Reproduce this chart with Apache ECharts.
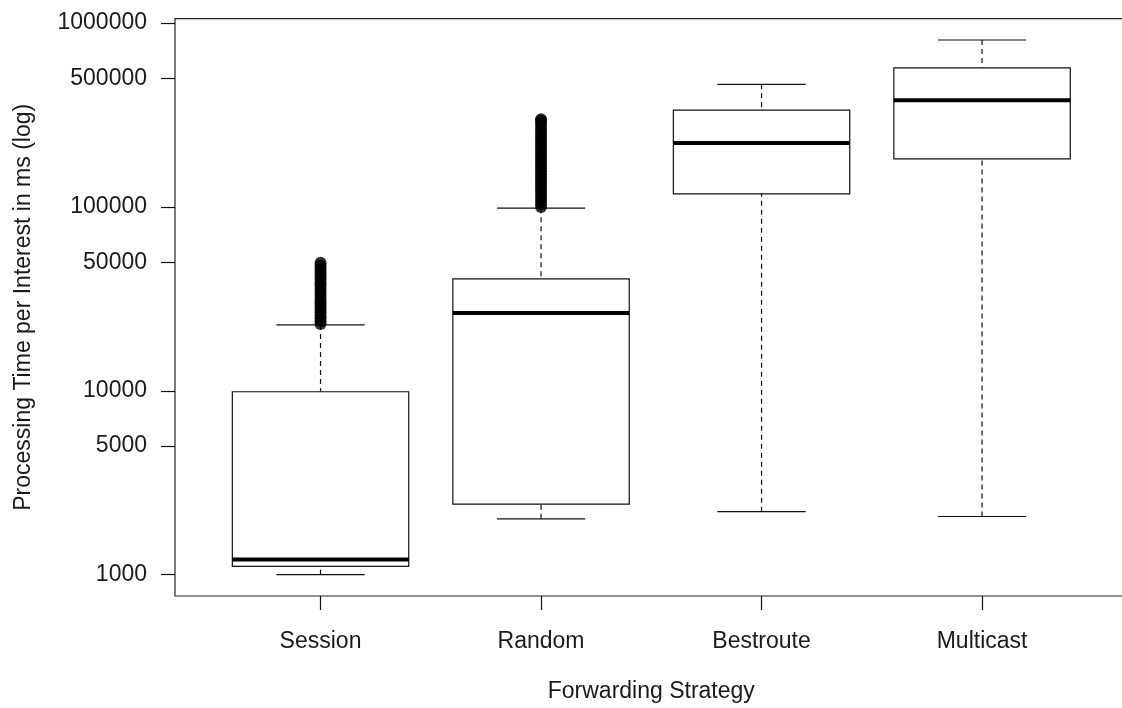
<!DOCTYPE html>
<html>
<head>
<meta charset="utf-8">
<script src="https://cdn.jsdelivr.net/npm/echarts@6/dist/echarts.min.js"></script>
<style>
  html, body { margin: 0; padding: 0; background: #ffffff; overflow: hidden; }
  /* the plotting region runs a little past the right edge of the window */
  #chart { width: 1140px; height: 708px; }
</style>
</head>
<body>
<div id="chart"></div>
<script>
// Forwarding strategies on the x axis
const strategies = ['Session', 'Random', 'Bestroute', 'Multicast'];

// Box summaries, processing time per interest in ms
const lowerWhisker  = [1000, 2010, 2200, 2070];
const lowerQuartile = [1110, 2420, 117800, 182300];
const medians       = [1210, 26500, 222800, 380000];
const upperQuartile = [9880, 40600, 336000, 571000];
const upperWhisker  = [22800, 98400, 464000, 809000];

// Outliers above the upper whisker
const sessionOutliers = [23100, 23900, 24800, 25700, 26700, 27700, 28700, 29800, 30900,
  32000, 33200, 34500, 35800, 37100, 38500, 40000, 41500, 43000, 44600, 46300, 48000, 49700];
const randomOutliers = [100000, 103800, 107700, 111800, 116000, 120400, 125000, 129700,
  134600, 139700, 145000, 150500, 156200, 162100, 168300, 174700, 181300, 188200, 195300,
  202700, 210400, 218400, 226700, 235300, 244200, 253500, 263100, 273100, 283400, 294200, 300000];
const outlierGroups = [sessionOutliers, randomOutliers, [], []];

// Y axis tick labels
const yTickValues = [1000, 5000, 10000, 50000, 100000, 500000, 1000000];

const FONT = 'Liberation Sans';
const INK = '#1a1a1a';

// log10 positions on the value axis
const lg = v => Math.log10(v);

const allValues = [].concat(lowerWhisker, upperWhisker, ...outlierGroups);
const lo = lg(Math.min(...allValues));
const hi = lg(Math.max(...allValues));
const pad = (hi - lo) * 0.04;
const n = strategies.length;

const boxData = strategies.map((s, i) => [
  i + 1,
  lg(lowerWhisker[i]), lg(lowerQuartile[i]), lg(medians[i]),
  lg(upperQuartile[i]), lg(upperWhisker[i])
]);

const outlierData = [];
outlierGroups.forEach((g, i) => g.forEach(v => outlierData.push([i + 1, lg(v)])));

function renderBox(params, api) {
  const x = api.value(0);
  const lw = api.value(1), q1 = api.value(2), md = api.value(3), q3 = api.value(4), uw = api.value(5);
  const halfBox = 0.4, halfCap = 0.2;
  const c = (a, b) => api.coord([a, b]);
  const pTopLeft = c(x - halfBox, q3);
  const pBotRight = c(x + halfBox, q1);
  const dashed = { stroke: '#111', lineWidth: 1.2, lineDash: [5, 4] };
  const solid = { stroke: '#111', lineWidth: 1.2 };
  const line = (p1, p2, style) => ({
    type: 'line',
    shape: { x1: p1[0], y1: p1[1], x2: p2[0], y2: p2[1] },
    style: style
  });
  return {
    type: 'group',
    children: [
      line(c(x, uw), c(x, q3), dashed),
      line(c(x, lw), c(x, q1), dashed),
      line(c(x - halfCap, uw), c(x + halfCap, uw), solid),
      line(c(x - halfCap, lw), c(x + halfCap, lw), solid),
      {
        type: 'rect',
        shape: {
          x: pTopLeft[0], y: pTopLeft[1],
          width: pBotRight[0] - pTopLeft[0], height: pBotRight[1] - pTopLeft[1]
        },
        style: { fill: '#ffffff', stroke: '#111', lineWidth: 1.2 }
      },
      line(c(x - halfBox, md), c(x + halfBox, md), { stroke: '#000', lineWidth: 4 })
    ]
  };
}

const chart = echarts.init(document.getElementById('chart'), null, { renderer: 'canvas' });

chart.setOption({
  animation: false,
  backgroundColor: '#ffffff',
  textStyle: { fontFamily: FONT },
  grid: {
    left: 175, top: 18.6, width: 952.6, height: 577.8,
    show: true, borderColor: '#222', borderWidth: 1.2, backgroundColor: 'transparent'
  },
  xAxis: {
    type: 'value',
    min: 0.5 - 0.04 * n,
    max: n + 0.5 + 0.04 * n,
    splitLine: { show: false },
    axisLine: { show: false },
    axisTick: {
      show: true, inside: false, length: 14,
      customValues: strategies.map((s, i) => i + 1),
      lineStyle: { color: '#111', width: 1.2 }
    },
    axisLabel: {
      customValues: strategies.map((s, i) => i + 1),
      formatter: v => strategies[Math.round(v) - 1],
      margin: 34, fontSize: 23, color: INK, fontFamily: FONT
    },
    name: 'Forwarding Strategy',
    nameLocation: 'middle',
    nameGap: 84,
    nameTextStyle: { fontSize: 23, color: INK, fontFamily: FONT }
  },
  yAxis: {
    type: 'value',
    min: lo - pad,
    max: hi + pad,
    splitLine: { show: false },
    axisLine: { show: false },
    axisTick: {
      show: true, inside: false, length: 14,
      customValues: yTickValues.map(lg),
      lineStyle: { color: '#111', width: 1.2 }
    },
    axisLabel: {
      customValues: yTickValues.map(lg),
      formatter: v => String(Math.round(Math.pow(10, v))),
      margin: 28, fontSize: 23, color: INK, fontFamily: FONT
    },
    name: 'Processing Time per Interest in ms (log)',
    nameLocation: 'middle',
    nameGap: 140,
    nameRotate: 90,
    nameTextStyle: { fontSize: 23, color: INK, fontFamily: FONT }
  },
  series: [
    {
      type: 'custom',
      renderItem: renderBox,
      data: boxData,
      encode: { x: 0, y: [1, 2, 3, 4, 5] },
      clip: false,
      silent: true
    },
    {
      type: 'scatter',
      data: outlierData,
      symbol: 'circle',
      symbolSize: 12,
      itemStyle: { color: '#000' },
      silent: true,
      z: 3
    }
  ]
});
</script>
</body>
</html>
